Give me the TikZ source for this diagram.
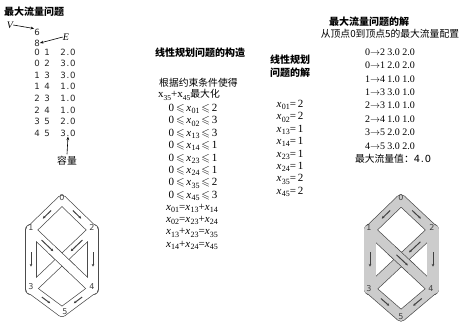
\documentclass[tikz,border=0pt]{standalone}
\usepackage{fontspec}
\usepackage{amssymb}
\setmainfont{Liberation Serif}
\newfontfamily\cjk{Noto Sans CJK SC}
\newfontfamily\sfd{DejaVu Sans}
\usetikzlibrary{calc,arrows.meta}
\newcommand\xs[1]{\textit{x}\kern0.3pt\raisebox{-0.45ex}{\fontsize{8}{8}\selectfont #1}}
\newcommand\xu[1]{x\raisebox{-0.45ex}{\fontsize{7.5}{8}\selectfont #1}}
\newcommand\myle{\,$\leqslant$\,}
\newcommand\dval[2]{#1\kern0.8pt.\kern0.8pt#2}
% #1 prefix, #2 outer diag, #3 inner diag, #4 outer vertical, #5 inner vertical, #6 fill
\newcommand\tubes[6]{%
  \foreach \a/\b in {0/1,0/2,3/5,4/5,2/3,1/4}
    \draw[line width=#2, draw=black!70, line cap=round, line join=round] (#1\a) -- (#1\b);
  \foreach \a/\b in {1/3,2/4}
    \draw[line width=#4, draw=black!70, line cap=round] (#1\a) -- (#1\b);
  \foreach \a/\b in {0/1,0/2,3/5,4/5,2/3,1/4}
    \draw[line width=#3, draw=#6, line cap=round, line join=round] (#1\a) -- (#1\b);
  \foreach \a/\b in {1/3,2/4}
    \draw[line width=#5, draw=#6, line cap=round] (#1\a) -- (#1\b);
  \draw[line width=#2, draw=black!70] ($(#11)!0.34!(#14)$) -- ($(#11)!0.66!(#14)$);
  \draw[line width=#3, draw=#6] ($(#11)!0.32!(#14)$) -- ($(#11)!0.68!(#14)$);
}
\tikzset{
  cjkt/.style={font=\cjk\fontsize{9.8}{10}\selectfont, inner sep=0pt},
  cjkb/.style={font=\cjk\bfseries\fontsize{10}{10}\selectfont, inner sep=0pt},
  num/.style={font=\sfd\fontsize{8.6}{9}\selectfont, inner sep=0pt, text=black!85},
  ser/.style={font=\fontsize{11}{11}\selectfont, inner sep=0pt},
  vlab/.style={font=\sfd\fontsize{8}{8}\selectfont, inner sep=0pt, text=black!75},
  flow/.style={line width=1pt, draw=black!75, -{Stealth[length=2.6pt,width=2.6pt]}},
  pointer/.style={line width=0.6pt, -{Stealth[length=3.5pt,width=2.8pt]}},
}
\begin{document}
\begin{tikzpicture}[x=1pt,y=-1pt]
\useasboundingbox (0,0) rectangle (462,324);
% ---------- left column ----------
\node[cjkb, anchor=west] (t1) at (4,12) {最大流量问题};
\node[font=\itshape\fontsize{10}{10}\selectfont, inner sep=0pt] (V) at (10,25) {V};
\node[num] (n6) at (37,32) {6};
\node[num] (n8) at (37,43) {8};
\node[font=\itshape\fontsize{10}{10}\selectfont, inner sep=0pt] (E) at (66,37) {E};
\draw[pointer] (V.east) -- (n6.north west);
\draw[pointer] (E.west) -- (n8.east);
\foreach \i/\a/\b/\c/\d in {0/0/1/2/0,1/0/2/3/0,2/1/3/3/0,3/1/4/1/0,4/2/3/1/0,5/2/4/1/0,6/3/5/2/0,7/4/5/3/0}{
  \node[num] (ra\i) at (37,52+11.6*\i) {\a};
  \node[num] (rb\i) at (47,52+11.6*\i) {\b};
  \node[num] (rc\i) at (68,52+11.6*\i) {\dval{\c}{\d}};
}
\node[cjkt] (cap) at (67,161) {容量};
\draw[pointer] (cap.north) ++(0,-2) coordinate (capfoot) (capfoot) -- (rc7.south);
% ---------- left graph ----------
\coordinate (L0) at (62,200);
\coordinate (L1) at (31,230);
\coordinate (L2) at (93,230);
\coordinate (L3) at (31,289);
\coordinate (L4) at (93,289);
\coordinate (L5) at (62,312);
\tubes{L}{10pt}{8.6pt}{12pt}{10.6pt}{white}
\draw[flow] ($(L0)!0.35!(L1)$) -- ($(L0)!0.62!(L1)$);
\draw[flow] ($(L0)!0.35!(L2)$) -- ($(L0)!0.62!(L2)$);
\draw[flow] ($(L1)!0.38!(L3)$) -- ($(L1)!0.62!(L3)$);
\draw[flow] ($(L2)!0.38!(L4)$) -- ($(L2)!0.62!(L4)$);
\draw[flow] ($(L1)!0.17!(L4)$) -- ($(L1)!0.36!(L4)$);
\draw[flow] ($(L2)!0.17!(L3)$) -- ($(L2)!0.36!(L3)$);
\draw[flow] ($(L3)!0.35!(L5)$) -- ($(L3)!0.62!(L5)$);
\draw[flow] ($(L4)!0.35!(L5)$) -- ($(L4)!0.62!(L5)$);
\node[vlab] (l0) at ($(L0)+(0,-2)$) {0};
\node[vlab] (l1) at ($(L1)+(0,-2)$) {1};
\node[vlab] (l2) at ($(L2)+(-1,-2)$) {2};
\node[vlab] (l3) at ($(L3)+(0,-2)$) {3};
\node[vlab] (l4) at ($(L4)+(-1,-2)$) {4};
\node[vlab] (l5) at ($(L5)+(3,0)$) {5};
% ---------- middle column ----------
\node[cjkb] (t2) at (200,53) {线性规划问题的构造};
\node[cjkt, anchor=west] (m1) at (159,83) {根据约束条件使得};
\node[ser, anchor=west] (m2) at (158,95) {\xu{35}+\xu{45}{\cjk\fontsize{9.8}{10}\selectfont 最大化}};
\foreach \i/\s/\v in {0/01/2,1/02/3,2/13/3,3/14/1,4/23/1,5/24/1,6/35/2,7/45/3}{
  \node[ser] (c\i) at (193,109+12.4*\i) {0\myle\xs{\s}\myle\v};
}
\node[ser] (e0) at (192,208.2) {\xs{01}=\xs{13}+\xs{14}};
\node[ser] (e1) at (192,220.6) {\xs{02}=\xs{23}+\xs{24}};
\node[ser] (e2) at (192,233.0) {\xs{13}+\xs{23}=\xs{35}};
\node[ser] (e3) at (192,245.4) {\xs{14}+\xs{24}=\xs{45}};
% ---------- solution column ----------
\node[cjkb] (t3a) at (290,60) {线性规划};
\node[cjkb] (t3b) at (290,73) {问题的解};
\foreach \i/\s/\v in {0/01/2,1/02/2,2/13/1,3/14/1,4/23/1,5/24/1,6/35/2,7/45/2}{
  \node[ser] (s\i) at (290,105+12.4*\i) {\xs{\s}=\,\v};
}
% ---------- right column ----------
\node[cjkb, anchor=west] (t4) at (329,22) {最大流量问题的解};
\node[cjkt] (t5) at (390,34) {从顶点0到顶点5的最大流量配置};
\foreach \i/\a/\b/\c/\d in {0/0/2/3.0/2.0,1/0/1/2.0/2.0,2/1/4/1.0/1.0,3/1/3/3.0/1.0,4/2/3/1.0/1.0,5/2/4/1.0/1.0,6/3/5/2.0/2.0,7/4/5/3.0/2.0}{
  \node[ser, font=\fontsize{10}{10}\selectfont] (f\i) at (390,52+13.4*\i) {\a$\to$\b\ \c\ \d};
}
\node[cjkt] (mx) at (393,159) {最大流量值：{\sfd\dval{4}{0}}};
% ---------- right graph ----------
\coordinate (R0) at (401,200);
\coordinate (R1) at (370,230);
\coordinate (R2) at (433,230);
\coordinate (R3) at (370,289);
\coordinate (R4) at (433,289);
\coordinate (R5) at (401,316);
\tubes{R}{11pt}{9.6pt}{12.5pt}{11.1pt}{black!20}
\draw[flow] ($(R0)!0.35!(R1)$) -- ($(R0)!0.62!(R1)$);
\draw[flow] ($(R0)!0.35!(R2)$) -- ($(R0)!0.62!(R2)$);
\draw[flow] ($(R1)!0.38!(R3)$) -- ($(R1)!0.62!(R3)$);
\draw[flow] ($(R2)!0.38!(R4)$) -- ($(R2)!0.62!(R4)$);
\draw[flow] ($(R1)!0.42!(R4)$) -- ($(R1)!0.6!(R4)$);
\draw[flow] ($(R2)!0.2!(R3)$) -- ($(R2)!0.38!(R3)$);
\draw[flow] ($(R3)!0.35!(R5)$) -- ($(R3)!0.62!(R5)$);
\draw[flow] ($(R4)!0.35!(R5)$) -- ($(R4)!0.62!(R5)$);
\node[vlab] (r0) at ($(R0)+(0,-2)$) {0};
\node[vlab] (r1) at ($(R1)+(-1,-2)$) {1};
\node[vlab] (r2) at ($(R2)+(-1,-2)$) {2};
\node[vlab] (r3) at ($(R3)+(-1,0)$) {3};
\node[vlab] (r4) at ($(R4)+(-2,0)$) {4};
\node[vlab] (r5) at ($(R5)+(0,1)$) {5};
\end{tikzpicture}
\end{document}
